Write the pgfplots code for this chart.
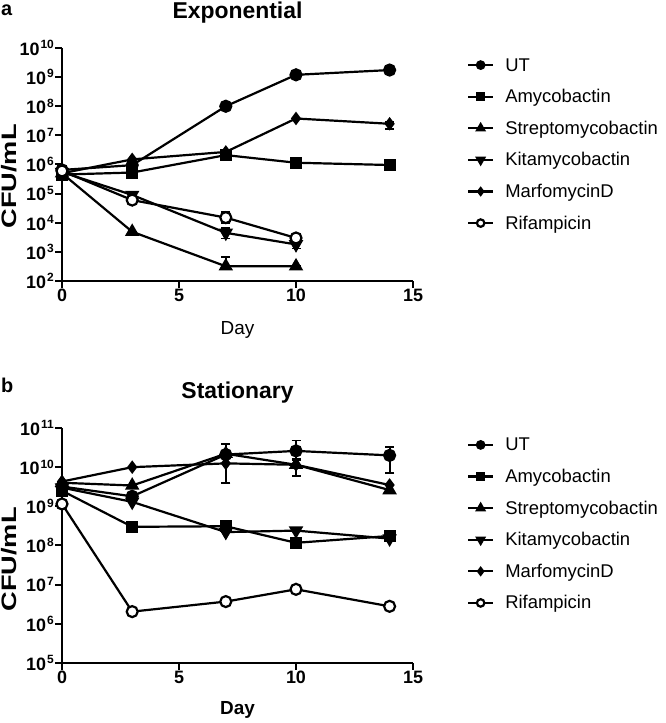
\documentclass[border=0pt]{standalone}
\usepackage{fontspec}
\setmainfont{Liberation Sans}
\usepackage{graphicx}
\usepackage{pgfplots}
\pgfplotsset{compat=1.18}

\newcommand{\tl}[1]{\textbf{10}\hspace{1bp}\raisebox{6.5bp}{\fontsize{12}{12}\selectfont\bfseries #1}}

\pgfplotsset{
  ser/.style={black, line width=2.2bp,
    error bars/y dir=both, error bars/y explicit,
    error bars/error bar style={line width=1.8bp, black},
    error bars/error mark options={line width=1.8bp, mark size=4.5bp, black, rotate=90}},
  sUT/.style={ser, mark=*, mark size=5.5bp},
  sAM/.style={ser, mark=square*, mark size=5bp},
  sST/.style={ser, mark=triangle*, mark size=6.2bp},
  sKI/.style={ser, mark=triangle*, mark size=6.2bp, mark options={rotate=180}},
  sMA/.style={ser, mark=diamond*, mark size=5bp},
  sRI/.style={ser, mark=*, mark size=5.5bp, mark options={fill=white, line width=2.2bp}},
}

\begin{document}
\begin{tikzpicture}
\useasboundingbox (0,0) rectangle (666bp,723bp);

% ---------------- panel a ----------------
\begin{axis}[at={(62bp,442bp)}, anchor=south west,
    scale only axis, width=351bp, height=233bp,
    xmin=0, xmax=15, ymode=log, log basis y=10,
    ymin=1e2, ymax=1e10,
    ytickten={2,...,10},
    yticklabels={\tl{2},\tl{3},\tl{4},\tl{5},\tl{6},\tl{7},\tl{8},\tl{9},\tl{10}},
    axis x line*=bottom, axis y line*=left,
    axis line style={line width=2.4bp, black},
    tick style={line width=2bp, black},
    tick align=outside,
    major tick length=7bp, minor tick length=4bp,
    xtick={0,5,10,15},
    xticklabels={\textbf{0},\textbf{5},\textbf{10},\textbf{15}},
    xticklabel style={font=\fontsize{18}{18}\selectfont, inner sep=1bp},
    yticklabel style={font=\fontsize{18}{18}\selectfont, inner sep=1bp},
    ylabel={\scalebox{1.3}[1]{\bfseries CFU/mL}},
    ylabel style={font=\fontsize{21}{21}\selectfont, at={(axis description cs:0,0.5)}, anchor=center, yshift=53bp, xshift=-12bp},
    xlabel={Day},
    xlabel style={font=\fontsize{19}{19}\selectfont, at={(axis description cs:0.5,0)}, anchor=base, yshift=-54bp},
    title={Exponential},
    title style={font=\bfseries\fontsize{23}{23}\selectfont, at={(axis description cs:0.5,1)}, anchor=base, yshift=24bp},
    clip=false,
    legend cell align=left,
    legend style={at={(1.154,0.961)}, anchor=north west, draw=none, fill=none, inner sep=0pt, outer sep=0pt,
      font=\fontsize{18.5}{18.5}\selectfont, row sep=15.6bp,
      nodes={inner sep=0pt, text height=14bp, text depth=2bp},
      /tikz/every odd column/.append style={column sep=11bp}},
    legend image code/.code={\draw[mark repeat=2,mark phase=2,#1,every mark/.append style={scale=0.68}] plot coordinates {(0bp,0bp)(12.5bp,0bp)(25bp,0bp)};},
]
\addplot[sUT] table[x=x,y=y,y error plus=ep,y error minus=em] {
x y ep em
0 6.5e5 2.5e5 2e5
3 9.5e5 0 0
7 1.0e8 0 0
10 1.2e9 0 0
14 1.75e9 0 0
};
\addlegendentry{UT}
\addplot[sAM] table[x=x,y=y,y error plus=ep,y error minus=em] {
x y ep em
0 4.5e5 1e5 1e5
3 5.3e5 0 0
7 2.1e6 0 0
10 1.15e6 0 0
14 9.6e5 0 0
};
\addlegendentry{Amycobactin}
\addplot[sST] table[x=x,y=y,y error plus=ep,y error minus=em] {
x y ep em
0 5e5 0 0
3 4.9e3 0 0
7 320 350 0
10 320 0 0
};
\addlegendentry{Streptomycobactin}
\addplot[sKI] table[x=x,y=y,y error plus=ep,y error minus=em] {
x y ep em
0 5.5e5 0 0
3 9e4 2e4 2e4
7 4.5e3 2e3 1.6e3
10 1.8e3 0.5e3 0.5e3
};
\addlegendentry{Kitamycobactin}
\addplot[sMA] table[x=x,y=y,y error plus=ep,y error minus=em] {
x y ep em
0 5e5 0 0
3 1.5e6 0 0
7 2.7e6 0 0
10 3.8e7 0 0
14 2.5e7 0.3e7 0.8e7
};
\addlegendentry{MarfomycinD}
\addplot[sRI] table[x=x,y=y,y error plus=ep,y error minus=em] {
x y ep em
0 6e5 0 0
3 6e4 1.5e4 1.5e4
7 1.5e4 0.9e4 0.5e4
10 3e3 1.3e3 0.8e3
};
\addlegendentry{Rifampicin}
\end{axis}

% ---------------- panel b ----------------
\begin{axis}[at={(62bp,60bp)}, anchor=south west,
    scale only axis, width=351bp, height=235bp,
    xmin=0, xmax=15, ymode=log, log basis y=10,
    ymin=1e5, ymax=1e11,
    ytickten={5,...,11},
    yticklabels={\tl{5},\tl{6},\tl{7},\tl{8},\tl{9},\tl{10},\tl{11}},
    axis x line*=bottom, axis y line*=left,
    axis line style={line width=2.4bp, black},
    tick style={line width=2bp, black},
    tick align=outside,
    major tick length=7bp, minor tick length=4bp,
    xtick={0,5,10,15},
    xticklabels={\textbf{0},\textbf{5},\textbf{10},\textbf{15}},
    xticklabel style={font=\fontsize{18}{18}\selectfont, inner sep=1bp},
    yticklabel style={font=\fontsize{18}{18}\selectfont, inner sep=1bp},
    ylabel={\scalebox{1.3}[1]{\bfseries CFU/mL}},
    ylabel style={font=\fontsize{21}{21}\selectfont, at={(axis description cs:0,0.5)}, anchor=center, yshift=53bp, xshift=-14bp},
    xlabel={\textbf{Day}},
    xlabel style={font=\fontsize{19}{19}\selectfont, at={(axis description cs:0.5,0)}, anchor=base, yshift=-52bp},
    title={Stationary},
    title style={font=\bfseries\fontsize{23}{23}\selectfont, at={(axis description cs:0.5,1)}, anchor=base, yshift=24bp},
    clip=false,
    legend cell align=left,
    legend style={at={(1.154,0.962)}, anchor=north west, draw=none, fill=none, inner sep=0pt, outer sep=0pt,
      font=\fontsize{18.5}{18.5}\selectfont, row sep=15.6bp,
      nodes={inner sep=0pt, text height=14bp, text depth=2bp},
      /tikz/every odd column/.append style={column sep=11bp}},
    legend image code/.code={\draw[mark repeat=2,mark phase=2,#1,every mark/.append style={scale=0.68}] plot coordinates {(0bp,0bp)(12.5bp,0bp)(25bp,0bp)};},
]
\addplot[sUT] table[x=x,y=y,y error plus=ep,y error minus=em] {
x y ep em
0 3.2e9 0 0
3 1.8e9 0 0
7 2.1e10 0 0
10 2.6e10 2.2e10 1e10
14 2.0e10 1.3e10 1.3e10
};
\addlegendentry{UT}
\addplot[sAM] table[x=x,y=y,y error plus=ep,y error minus=em] {
x y ep em
0 2.5e9 0 0
3 3e8 0.5e8 0.7e8
7 3.1e8 0 0
10 1.17e8 0 0
14 1.75e8 0 0
};
\addlegendentry{Amycobactin}
\addplot[sST] table[x=x,y=y,y error plus=ep,y error minus=em] {
x y ep em
0 4e9 0 0
3 3.4e9 0 0
7 2.2e10 0 0
10 1.15e10 0.4e10 0.55e10
14 2.6e9 0 0
};
\addlegendentry{Streptomycobactin}
\addplot[sKI] table[x=x,y=y,y error plus=ep,y error minus=em] {
x y ep em
0 3e9 0 0
3 1.3e9 0 0
7 2.2e8 0 0
10 2.4e8 0 0
14 1.5e8 0 0
};
\addlegendentry{Kitamycobactin}
\addplot[sMA] table[x=x,y=y,y error plus=ep,y error minus=em] {
x y ep em
0 4.3e9 0 0
3 1.0e10 0 0
7 1.25e10 2.6e10 0.86e10
10 1.15e10 0 0
14 3.5e9 0 0
};
\addlegendentry{MarfomycinD}
\addplot[sRI] table[x=x,y=y,y error plus=ep,y error minus=em] {
x y ep em
0 1.15e9 0 0
3 2.05e6 0 0
7 3.7e6 0 0.7e6
10 7.6e6 0 0
14 2.8e6 0 0
};
\addlegendentry{Rifampicin}
\end{axis}

\node[anchor=base west, inner sep=0pt, font=\bfseries\fontsize{20}{20}\selectfont] at (1bp,707bp) {a};
\node[anchor=base west, inner sep=0pt, font=\bfseries\fontsize{20}{20}\selectfont] at (1bp,330bp) {b};
\end{tikzpicture}
\end{document}
